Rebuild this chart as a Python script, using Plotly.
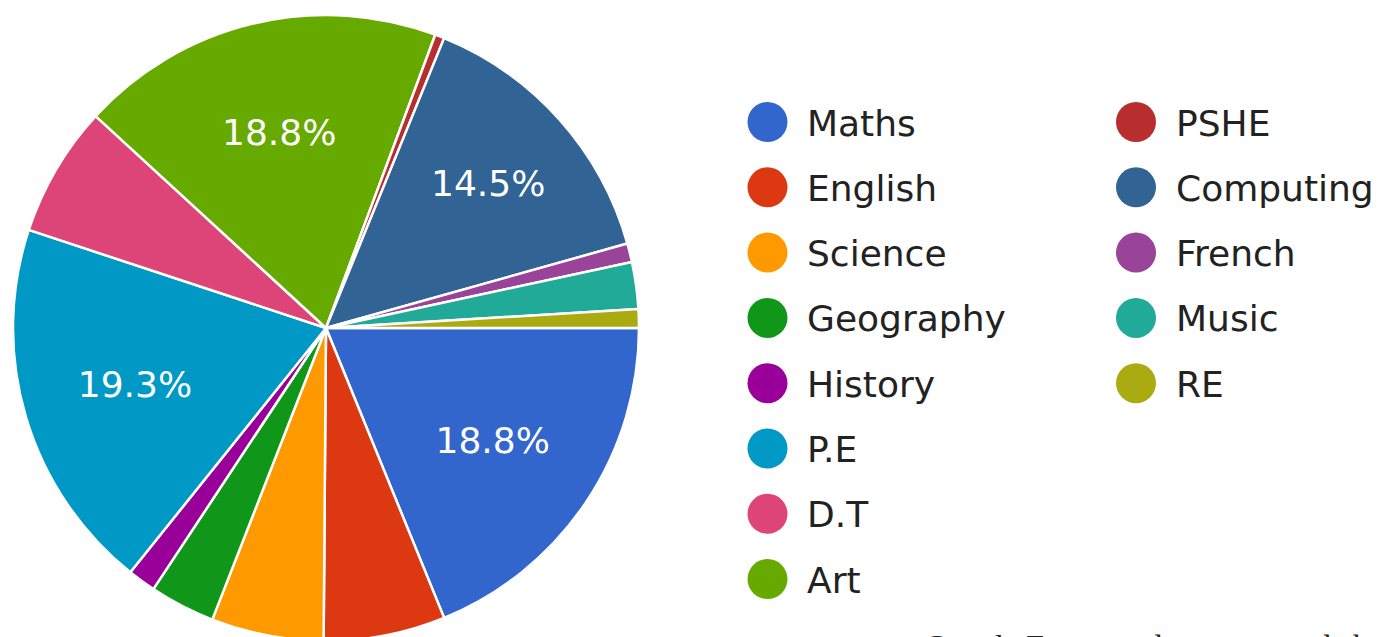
import plotly.graph_objects as go

# ---- data (counts of responses, N = 207) ----
subjects = ["Maths", "English", "Science", "Geography", "History", "P.E", "D.T", "Art",
            "PSHE", "Computing", "French", "Music", "RE"]
counts = [39, 13, 12, 7, 3, 40, 14, 39, 1, 30, 2, 5, 2]
colors = ["#3366cc", "#dc3912", "#ff9900", "#109618", "#990099", "#0099c6", "#dd4477",
          "#66aa00", "#b82e2e", "#316395", "#994499", "#22aa99", "#aaaa11"]
legend_col1 = subjects[:8]
legend_col2 = subjects[8:]
footer_text = "Google Forms and surveys made by Wi"

W, H = 1379, 660
FONT = "DejaVu Sans, Liberation Sans, Arial"


def px(x):
    return x / W


def py(y):
    return 1 - y / H


total = sum(counts)
labels_txt = []
for c in counts:
    p = 100.0 * c / total
    labels_txt.append(f"{p:.1f}%" if p >= 10 else "")

fig = go.Figure()
fig.add_trace(go.Pie(
    labels=subjects,
    values=counts,
    text=labels_txt,
    textinfo="text",
    textposition="inside",
    insidetextorientation="horizontal",
    textfont=dict(family=FONT, size=36, color="white"),
    marker=dict(colors=colors, line=dict(color="white", width=2.5)),
    sort=False,
    direction="clockwise",
    rotation=90,
    showlegend=False,
    hoverinfo="none",
    domain=dict(x=[px(13), px(639)], y=[py(641), py(15)]),
))

shapes = []
annotations = []
r = 20
row_gap = 65.3
cols = [(767.5, 805, legend_col1), (1136, 1174, legend_col2)]
for cx, tx, names in cols:
    for i, name in enumerate(names):
        cy = 122 + i * row_gap
        col = colors[subjects.index(name)]
        shapes.append(dict(type="circle", xref="paper", yref="paper",
                           x0=px(cx - r), x1=px(cx + r), y0=py(cy + r), y1=py(cy - r),
                           fillcolor=col, line=dict(width=0)))
        annotations.append(dict(text=name, xref="paper", yref="paper",
                                x=px(tx), y=py(cy + 1), xanchor="left", yanchor="middle",
                                showarrow=False,
                                font=dict(family=FONT, size=36, color="#222222")))

annotations.append(dict(text=footer_text, xref="paper", yref="paper",
                        x=px(922), y=py(626), xanchor="left", yanchor="top", showarrow=False,
                        font=dict(family="Liberation Serif, Times New Roman, serif", size=32,
                                  color="#222222")))

fig.update_layout(
    width=W, height=H,
    margin=dict(l=0, r=0, t=0, b=0),
    paper_bgcolor="white", plot_bgcolor="white",
    shapes=shapes, annotations=annotations,
)

fig.write_html("out.html",
               post_script="document.documentElement.style.overflow='hidden';document.body.style.overflow='hidden';")
